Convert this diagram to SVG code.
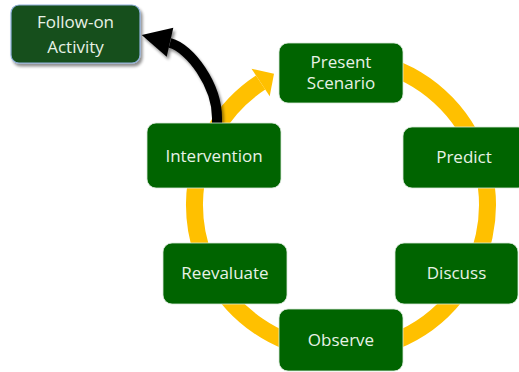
<svg xmlns="http://www.w3.org/2000/svg" width="519" height="372" viewBox="0 0 519 372">
<style>
.box{fill:#006400;stroke:#d8e8d8;stroke-width:1;stroke-opacity:0.8}
.fo{fill:#18501a;stroke:#8fb0dc;stroke-width:1.2}
.t{font-family:"Open Sans","Liberation Sans",sans-serif;font-size:17px;fill:#e8f2e6;text-anchor:middle}
</style>
<defs>
<filter id="sh" x="-20%" y="-20%" width="140%" height="150%">
<feGaussianBlur in="SourceAlpha" stdDeviation="1.5"/>
<feOffset dx="2" dy="3" result="b"/>
<feComponentTransfer><feFuncA type="linear" slope="0.45"/></feComponentTransfer>
<feMerge><feMergeNode/><feMergeNode in="SourceGraphic"/></feMerge>
</filter>
</defs>
<rect width="519" height="372" fill="#ffffff"/>
<g id="connectors">
<path d="M315.6,60.7 A146.5,146.5 0 1 1 260.6,82.5" fill="none" stroke="#ffc000" stroke-width="17"/>
<polygon points="251.5,68.7 274,73.7 269.7,96.3" fill="#ffc000"/>
<g filter="url(#sh)">
<path d="M217,126 L217,118 C217,85 190,48 170,43" fill="none" stroke="#000000" stroke-width="10"/>
<polygon points="141.7,35 173.3,27.7 166.7,56.7" fill="#000000"/>
</g>
</g>
<g id="follow-on">
<rect class="fo" x="11" y="5" width="129" height="58" rx="8" filter="url(#sh)"/>
<text class="t" x="75.5" y="28">Follow-on</text>
<text class="t" x="75.5" y="53">Activity</text>
</g>
<g id="present">
<rect class="box" x="279" y="43" width="124" height="60" rx="9"/>
<text class="t" x="341" y="68">Present</text>
<text class="t" x="341" y="89">Scenario</text>
</g>
<g id="predict">
<rect class="box" x="403" y="127" width="124" height="61" rx="9"/>
<text class="t" x="464" y="163">Predict</text>
</g>
<g id="discuss">
<rect class="box" x="395" y="243" width="123" height="61" rx="9"/>
<text class="t" x="456.5" y="279">Discuss</text>
</g>
<g id="observe">
<rect class="box" x="279" y="309" width="124" height="62" rx="9"/>
<text class="t" x="341" y="346">Observe</text>
</g>
<g id="reevaluate">
<rect class="box" x="163" y="243" width="124" height="61" rx="9"/>
<text class="t" x="225" y="279">Reevaluate</text>
</g>
<g id="intervention">
<rect class="box" x="147" y="123" width="134" height="65" rx="9"/>
<text class="t" x="214" y="162">Intervention</text>
</g>
</svg>
